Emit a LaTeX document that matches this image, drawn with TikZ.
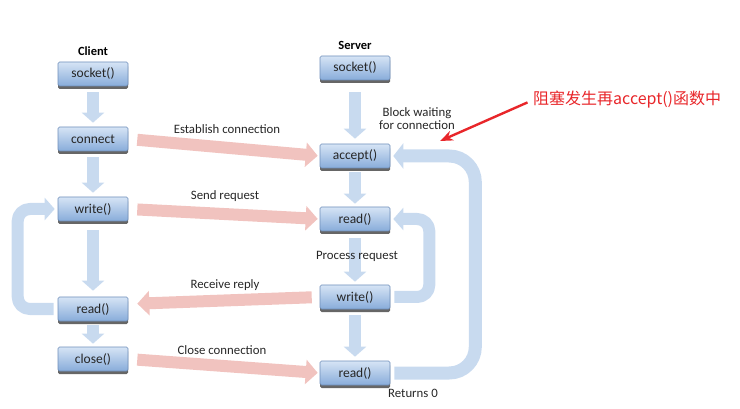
\documentclass[tikz,border=0pt]{standalone}
\usepackage{fontspec}
\setmainfont{Carlito}
\newfontfamily\cjk{Noto Sans CJK SC}
\usetikzlibrary{arrows.meta,shadows}
\pgfdeclarelayer{bg}
\pgfsetlayers{bg,main}
\definecolor{boxtop}{HTML}{D6E4F5}
\definecolor{boxbot}{HTML}{88ACDA}
\definecolor{boxline}{HTML}{6F8FBA}
\definecolor{flow}{HTML}{C8DAEF}
\definecolor{msg}{HTML}{F1C3BF}
\definecolor{txt}{HTML}{262626}
\definecolor{note}{HTML}{E8262A}
\begin{document}
\begin{tikzpicture}[x=1pt,y=-1pt,
  box/.style={minimum width=70pt,minimum height=24pt,inner sep=0pt,
    top color=boxtop,bottom color=boxbot,draw=boxline,line width=0.6pt,
    rounded corners=1.5pt,text=txt,font=\fontsize{13.5}{15}\selectfont,
    drop shadow={shadow xshift=0pt,shadow yshift=-3pt,fill=black!60,opacity=1}},
  lbl/.style={text=txt,font=\fontsize{12.8}{14}\selectfont,inner sep=0pt},
  hdr/.style={text=black,font=\fontsize{12.5}{14}\selectfont\bfseries,inner sep=0pt},
  flowarr/.style={draw=flow,line width=12pt,-{Triangle[width=22pt,length=10pt]},line join=round},
  msgarr/.style={draw=msg,line width=12pt,-{Triangle[width=24pt,length=12pt]}}
]
\useasboundingbox (0,0) rectangle (740,409);
\node[box] (cs) at (93,74) {socket()};
\node[box] (cc) at (93,139) {connect};
\node[box] (cw) at (93,209) {write()};
\node[box] (cr) at (93,309) {read()};
\node[box] (cx) at (93,359) {close()};
\node[box] (ss) at (355,68) {socket()};
\node[box] (sa) at (355,156) {accept()};
\node[box] (sr) at (355,219) {read()};
\node[box] (sw) at (355,297) {write()};
\node[box] (sr2) at (355,373) {read()};
\begin{pgfonlayer}{bg}
% vertical flow
\draw[flowarr,shorten <=6pt,shorten >=4pt] (cs.south) -- (cc.north);
\draw[flowarr,shorten <=6pt,shorten >=4pt] (cc.south) -- (cw.north);
\draw[flowarr,shorten <=9pt,shorten >=6pt] (cw.south) -- (cr.north);
\draw[flowarr,shorten <=4pt,shorten >=3pt] (cr.south) -- (cx.north);
\draw[flowarr,shorten <=12pt,shorten >=5pt] (ss.south) -- (sa.north);
\draw[flowarr,shorten <=4pt,shorten >=3pt] (sa.south) -- (sr.north);
\draw[flowarr,shorten <=7pt,shorten >=3pt] (sr.south) -- (sw.north);
\draw[flowarr,shorten <=6pt,shorten >=4pt] (sw.south) -- (sr2.north);
% loops
\draw[flowarr,rounded corners=12pt,shorten <=4pt,shorten >=3pt] (cr.west) -- ++(-40,0) |- (cw.west);
\draw[flowarr,rounded corners=12pt,shorten <=4pt,shorten >=3pt] (sw.east) -- ++(39,0) |- (sr.east);
\draw[flowarr,line width=13pt,-{Triangle[width=25pt,length=10pt]},rounded corners=26pt,shorten <=4pt,shorten >=3pt] (sr2.east) -- ++(85,0) |- (sa.east);
\end{pgfonlayer}
% messages
\draw[msgarr,shorten <=9pt,shorten >=2pt] (cc.east) -- (sa.west);
\draw[msgarr,shorten <=9pt,shorten >=2pt] (cw.east) -- (sr.west);
\draw[msgarr,shorten <=8pt,shorten >=9pt] (sw.west) -- ([yshift=5pt]cr.east);
\draw[msgarr,shorten <=9pt,shorten >=2pt] (cx.east) -- (sr2.west);
% labels
\node[hdr] (lc) at (93,51) {Client};
\node[hdr] (ls) at (355,45) {Server};
\node[lbl] (l1) at (227,129) {Establish connection};
\node[lbl] (l2) at (225,196) {Send request};
\node[lbl] (l3) at (225,285) {Receive reply};
\node[lbl] (l4) at (222,350) {Close connection};
\node[lbl,align=center] (l5) at (417,119) {Block waiting\\[-1pt]for connection};
\node[lbl] (l6) at (357,256) {Process request};
\node[lbl] (l7) at (413,393) {Returns 0};
% annotation
\node[text=note,font=\fontsize{16}{19}\selectfont\cjk,inner sep=0pt,anchor=west] (nt) at (533,100) {阻塞发生再accept()函数中};
\coordinate (tip) at (440,141);
\draw[note,line width=2.4pt,-{Stealth[length=13pt,width=10pt]},shorten <=6pt] (nt.west) -- (tip);
\end{tikzpicture}
\end{document}
